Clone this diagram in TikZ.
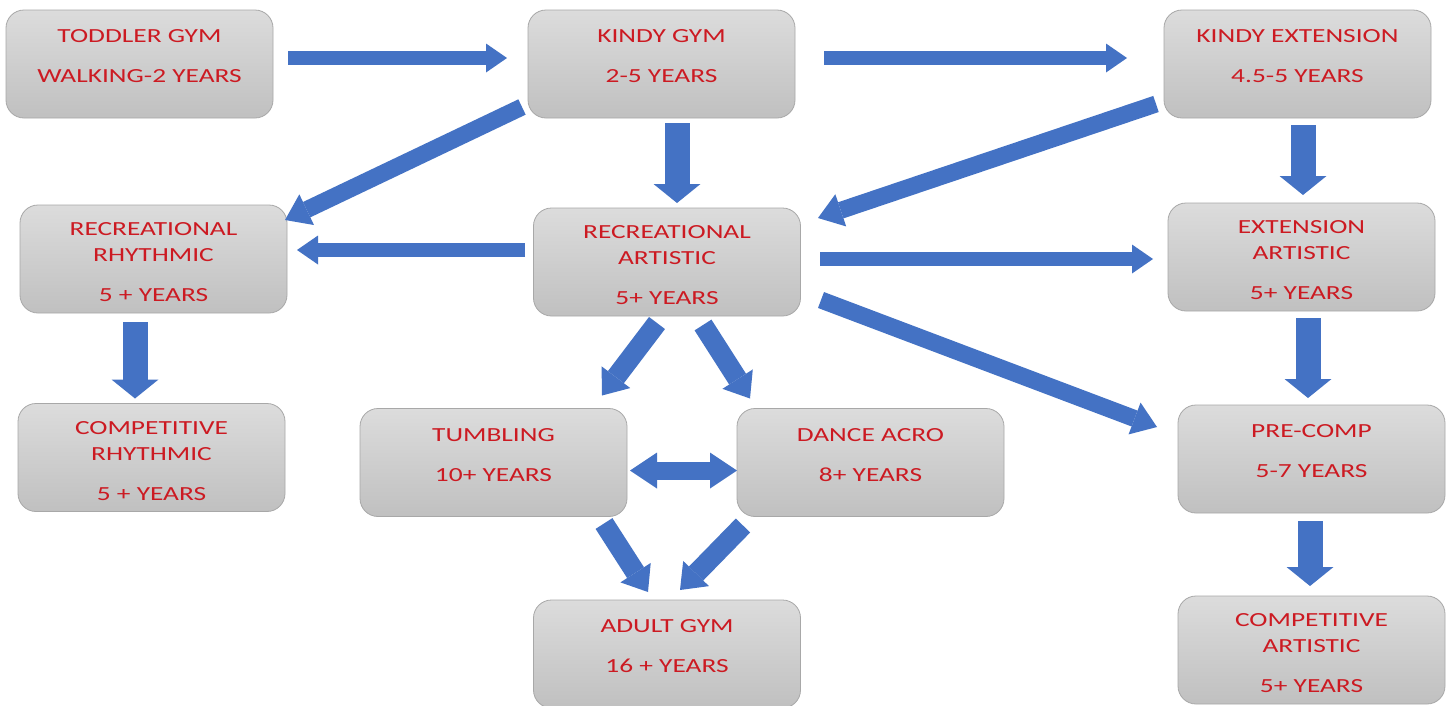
\documentclass[tikz,border=0pt]{standalone}
\usepackage{fontspec}
\setmainfont{Carlito}
\usetikzlibrary{arrows.meta,calc}
\definecolor{arrowblue}{RGB}{68,114,196}
\definecolor{txtred}{RGB}{204,26,34}
\definecolor{boxtop}{RGB}{220,220,220}
\definecolor{boxbot}{RGB}{192,192,192}
\definecolor{boxline}{RGB}{168,168,168}
\newcommand{\boxtext}[2][20pt]{\scalebox{1.37}[1]{\parbox[c][108pt][t]{192pt}{\centering\fontsize{20}{26}\selectfont\vspace*{#1}#2}}}
\tikzset{
  gbox/.style={draw=boxline, line width=0.8pt, rounded corners=18pt, top color=boxtop, bottom color=boxbot,
    minimum width=267pt, minimum height=108pt, inner sep=0pt, text=txtred},
  harr/.style={draw=arrowblue, line width=14pt, -{Triangle[width=29pt,length=21pt,line width=0pt,fill=arrowblue]}},
  varr/.style={draw=arrowblue, line width=25pt, -{Triangle[width=47pt,length=19pt,line width=0pt,fill=arrowblue]}},
  darr/.style={draw=arrowblue, line width=17pt, -{Triangle[width=34pt,length=24pt,line width=0pt,fill=arrowblue]}},
  sarr/.style={draw=arrowblue, line width=20pt, -{Triangle[width=36pt,length=23pt,line width=0pt,fill=arrowblue]}},
  dblarr/.style={draw=arrowblue, line width=18pt, {Triangle[width=36pt,length=27pt,line width=0pt,fill=arrowblue]}-{Triangle[width=36pt,length=27pt,line width=0pt,fill=arrowblue]}},
}
\begin{document}
\begin{tikzpicture}[x=1pt,y=-1pt]
\useasboundingbox (0,0) rectangle (1451,705);
\fill[white] (0,0) rectangle (1451,705);
% boxes
\node[gbox] (toddler) at (139.5,64) {\boxtext{TODDLER GYM\\[14pt]WALKING-2 YEARS}};
\node[gbox] (kindy) at (661.5,64) {\boxtext{KINDY GYM\\[14pt]2-5 YEARS}};
\node[gbox] (kext) at (1297.5,64) {\boxtext{KINDY EXTENSION\\[14pt]4.5-5 YEARS}};
\node[gbox] (recrh) at (153.5,259) {\boxtext[18pt]{RECREATIONAL\\RHYTHMIC\\[14pt]5 + YEARS}};
\node[gbox] (recart) at (667,262) {\boxtext[18pt]{RECREATIONAL\\ARTISTIC\\[14pt]5+ YEARS}};
\node[gbox] (extart) at (1301.5,257) {\boxtext[18pt]{EXTENSION\\ARTISTIC\\[14pt]5+ YEARS}};
\node[gbox] (comprh) at (151.5,457.5) {\boxtext[18pt]{COMPETITIVE\\RHYTHMIC\\[14pt]5 + YEARS}};
\node[gbox] (tumbling) at (493.5,462.5) {\boxtext{TUMBLING\\[14pt]10+ YEARS}};
\node[gbox] (dance) at (870.5,462.5) {\boxtext{DANCE ACRO\\[14pt]8+ YEARS}};
\node[gbox] (precomp) at (1311.5,459) {\boxtext{PRE-COMP\\[14pt]5-7 YEARS}};
\node[gbox] (adult) at (667,654) {\boxtext{ADULT GYM\\[14pt]16 + YEARS}};
\node[gbox] (compart) at (1311.5,650) {\boxtext[18pt]{COMPETITIVE\\ARTISTIC\\[14pt]5+ YEARS}};
% arrows
\draw[harr] ($(toddler.center)+(148.5,-6)$) -- ($(kindy.center)+(-154.5,-6)$);
\draw[harr] ($(kindy.center)+(162.5,-6)$) -- ($(kext.center)+(-170.5,-6)$);
\draw[darr] ($(kindy.center)+(-139.5,43)$) -- ($(recrh.center)+(131.5,-39)$);
\draw[varr] ($(kindy.center)+(15.5,59)$) -- ($(recart.center)+(10,-59)$);
\draw[darr] ($(kext.center)+(-141.5,40)$) -- ($(recart.center)+(151,-44)$);
\draw[varr] ($(kext.center)+(5.5,61)$) -- ($(extart.center)+(1.5,-62)$);
\draw[harr] ($(recart.center)+(-142,-12)$) -- ($(recrh.center)+(143.5,-9)$);
\draw[harr] ($(recart.center)+(153,-3)$) -- ($(extart.center)+(-148.5,2)$);
\draw[darr] ($(recart.center)+(154,38)$) -- ($(precomp.center)+(-154.5,-32)$);
\draw[varr] ($(recrh.center)+(-18.5,63)$) -- ($(comprh.center)+(-16.5,-59)$);
\draw[varr] ($(extart.center)+(6.5,61)$) -- ($(precomp.center)+(-3.5,-61)$);
\draw[varr] ($(precomp.center)+(-1.5,62)$) -- ($(compart.center)+(-1.5,-64)$);
\draw[sarr] ($(recart.center)+(-10,61)$) -- ($(tumbling.center)+(108.5,-67)$);
\draw[sarr] ($(recart.center)+(36,63)$) -- ($(dance.center)+(-120.5,-64)$);
\draw[dblarr] ($(tumbling.center)+(136.5,8)$) -- ($(dance.center)+(-133.5,8)$);
\draw[sarr] ($(tumbling.center)+(110.5,61)$) -- ($(adult.center)+(-19,-62)$);
\draw[sarr] ($(dance.center)+(-127.5,63)$) -- ($(adult.center)+(13,-64)$);
\end{tikzpicture}
\end{document}
